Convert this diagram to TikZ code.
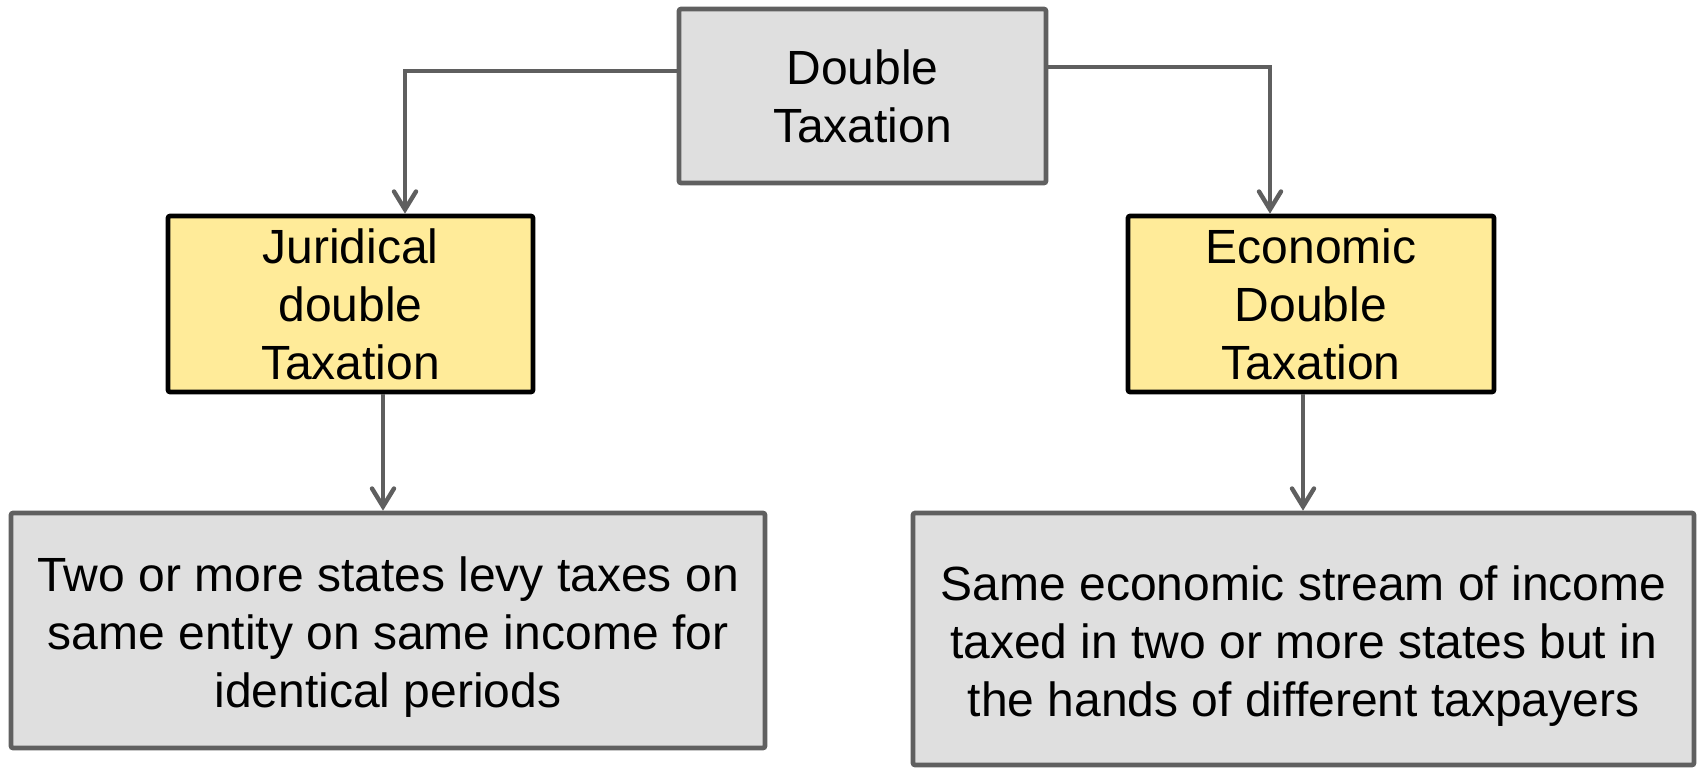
\documentclass[tikz,border=0pt]{standalone}
\usepackage{fontspec}
\setmainfont{Liberation Sans}
\usetikzlibrary{arrows.meta}

\definecolor{boxgray}{HTML}{DFDFDF}
\definecolor{edgegray}{HTML}{606060}
\definecolor{paleyellow}{HTML}{FFEB99}
\definecolor{linegray}{HTML}{5F5F5F}

% extra room above the first line, to lower a text block a little
\newcommand{\lowerby}[1]{\rule{0pt}{\dimexpr 0.72\baselineskip+#1\relax}}

\begin{document}
\begin{tikzpicture}[
  x=0.5pt, y=-0.5pt,
  txt/.style={align=center, inner sep=0pt,
    font=\fontsize{24pt}{29pt}\selectfont},
  graybox/.style={txt, draw=edgegray, fill=boxgray, line width=2.3pt,
    rounded corners=1pt},
  yellowbox/.style={txt, draw=black, fill=paleyellow, line width=2.3pt,
    rounded corners=1pt},
  conn/.style={draw=linegray, line width=2.2pt,
    -{Straight Barb[length=9pt, width=11pt, line width=2.2pt, line cap=round]}},
]
\useasboundingbox (0,0) rectangle (1698,767);

% boxes
\node[graybox, minimum width=183.5pt, minimum height=87pt] (top) at (862.5,96)
  {Double\\Taxation};
\node[yellowbox, minimum width=182.5pt, minimum height=88pt] (jur) at (350.5,304)
  {Juridical\\double\\Taxation};
\node[yellowbox, minimum width=183pt, minimum height=88pt] (eco) at (1311,304)
  {Economic\\Double\\Taxation};
\node[graybox, minimum width=377pt, minimum height=117.5pt] (jdesc) at (388,630.5)
  {\lowerby{3pt}Two or more states levy taxes on\\same entity on same income for\\identical periods};
\node[graybox, minimum width=390.5pt, minimum height=126pt] (edesc) at (1303.5,639)
  {\lowerby{4pt}Same economic stream of income\\taxed in two or more states but in\\the hands of different taxpayers};

% elbow points of the connectors
\coordinate (jl) at (405,71);
\coordinate (jr) at (1270,67);
\coordinate (dl) at (383,394);
\coordinate (dr) at (1303,394);

% connectors
\draw[conn] (top.west |- jl) -- (jl) -- (jl |- jur.north);
\draw[conn] (top.east |- jr) -- (jr) -- (jr |- eco.north);
\draw[conn] (jur.south -| dl) -- (dl |- jdesc.north);
\draw[conn] (eco.south -| dr) -- (dr |- edesc.north);
\end{tikzpicture}
\end{document}
